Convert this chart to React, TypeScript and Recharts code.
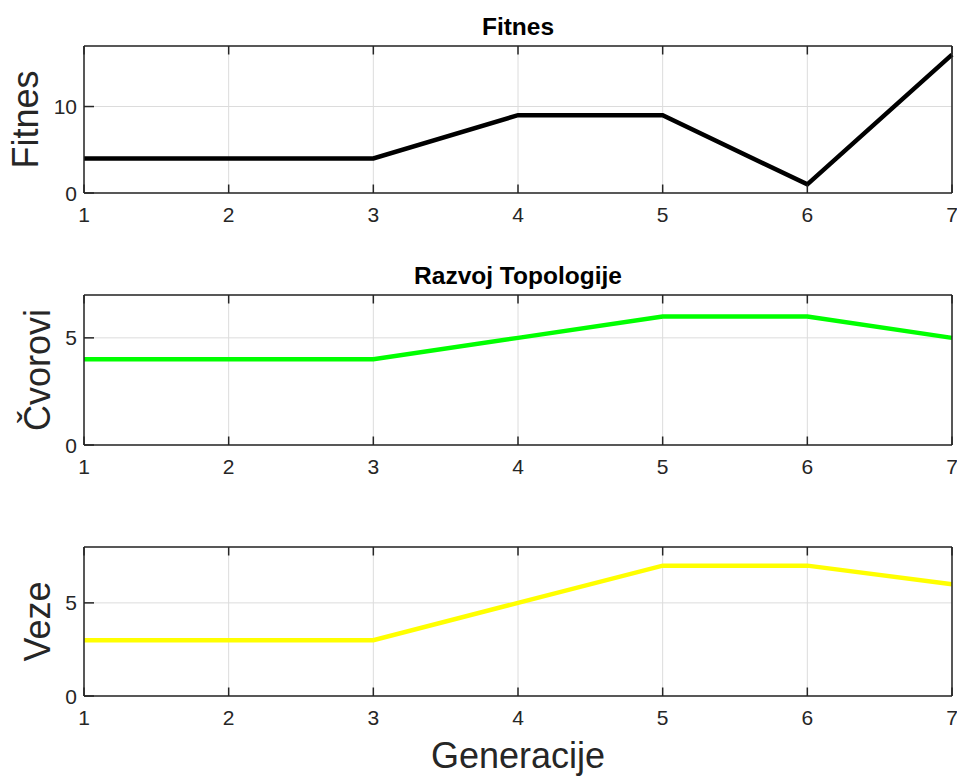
import { CartesianGrid, Label, Line, LineChart, XAxis, YAxis } from "recharts";

// generations on the x axis
const generations = [1, 2, 3, 4, 5, 6, 7];
// fitness per generation
const fitnessValues = [4, 4, 4, 9, 9, 1, 16];
// topology: nodes and connections per generation
const nodeCounts = [4, 4, 4, 5, 6, 6, 5];
const linkCounts = [3, 3, 3, 5, 7, 7, 6];

const xTicks = [1, 2, 3, 4, 5, 6, 7];
const fitnessTicks = [0, 10];
const nodeTicks = [0, 5];
const linkTicks = [0, 5];

const AXIS = "#262626";
const GRID = "#dcdcdc";
const FONT = "'Liberation Sans', Arial, Helvetica, sans-serif";
const W = 957;

const toRows = (values: number[]) => generations.map((g, i) => ({ g, v: values[i] }));

const BottomTick = ({ x, y, payload }: any) => (
  <g>
    <line x1={x} y1={y} x2={x} y2={y - 8.5} stroke={AXIS} strokeWidth={1.5} />
    <text x={x} y={y + 29} textAnchor="middle" fill={AXIS} fontSize={21} fontFamily={FONT}>
      {payload.value}
    </text>
  </g>
);

const TopTick = ({ x, y }: any) => <line x1={x} y1={y} x2={x} y2={y + 8.5} stroke={AXIS} strokeWidth={1.5} />;

const LeftTick = ({ x, y, payload }: any) => (
  <g>
    <line x1={x} y1={y} x2={x + 10} y2={y} stroke={AXIS} strokeWidth={1.5} />
    <text x={x - 7} y={y} dy="0.36em" textAnchor="end" fill={AXIS} fontSize={21} fontFamily={FONT}>
      {payload.value}
    </text>
  </g>
);

const RightTick = ({ x, y }: any) => <line x1={x} y1={y} x2={x - 10} y2={y} stroke={AXIS} strokeWidth={1.5} />;

const YTitle = ({ labelText, baseX, centerY }: any) => (
  <text
    x={baseX}
    y={centerY}
    transform={`rotate(-90 ${baseX} ${centerY})`}
    textAnchor="middle"
    fill={AXIS}
    fontSize={36}
    fontFamily={FONT}
  >
    {labelText}
  </text>
);

interface PanelProps {
  top: number;
  height: number;
  plotTop: number;
  plotHeight: number;
  values: number[];
  domain: [number, number];
  yTicks: number[];
  color: string;
  title?: string;
  yLabel: string;
  yLabelX: number;
  xLabel?: string;
}

const Panel = (p: PanelProps) => {
  const axisLine = { stroke: AXIS, strokeWidth: 1.5 };
  const xHeight = p.height - p.plotTop - p.plotHeight;
  return (
    <div style={{ position: "absolute", left: 0, top: p.top }}>
      <LineChart
        width={W}
        height={p.height}
        data={toRows(p.values)}
        margin={{ top: p.plotTop - 1, right: 4, bottom: 0, left: 0 }}
      >
        <CartesianGrid stroke={GRID} strokeWidth={1} />
        <Line
          type="linear"
          dataKey="v"
          stroke={p.color}
          strokeWidth={4.5}
          dot={false}
          activeDot={false}
          isAnimationActive={false}
        />
        <XAxis
          dataKey="g"
          type="number"
          domain={[1, 7]}
          ticks={xTicks}
          height={xHeight}
          tickSize={0}
          tickMargin={0}
          tickLine={false}
          axisLine={axisLine}
          tick={(t: any) => <BottomTick {...t} />}
        >
          {p.xLabel && (
            <Label value={p.xLabel} position="insideBottom" offset={8} fill={AXIS} fontSize={36} fontFamily={FONT} />
          )}
        </XAxis>
        <XAxis
          xAxisId="top"
          orientation="top"
          dataKey="g"
          type="number"
          domain={[1, 7]}
          ticks={xTicks}
          height={1}
          tickSize={0}
          tickMargin={0}
          tickLine={false}
          axisLine={axisLine}
          tick={(t: any) => <TopTick {...t} />}
        >
          {p.title && (
            <Label
              value={p.title}
              position="top"
              offset={10}
              fill="#000"
              fontSize={24.5}
              fontWeight="bold"
              fontFamily={FONT}
            />
          )}
        </XAxis>
        <YAxis
          type="number"
          domain={p.domain}
          ticks={p.yTicks}
          width={84}
          tickSize={0}
          tickMargin={0}
          tickLine={false}
          axisLine={axisLine}
          tick={(t: any) => <LeftTick {...t} />}
          label={<YTitle labelText={p.yLabel} baseX={p.yLabelX} centerY={p.plotTop + p.plotHeight / 2} />}
        />
        <YAxis
          yAxisId="right"
          orientation="right"
          type="number"
          domain={p.domain}
          ticks={p.yTicks}
          width={1}
          tickSize={0}
          tickMargin={0}
          tickLine={false}
          axisLine={axisLine}
          tick={(t: any) => <RightTick {...t} />}
        />
      </LineChart>
    </div>
  );
};

export default function App() {
  return (
    <div style={{ position: "absolute", left: 0, top: 0, width: W, height: 776, background: "#fff", overflow: "hidden" }}>
      <Panel
        top={0}
        height={250}
        plotTop={46}
        plotHeight={147}
        values={fitnessValues}
        domain={[0, 17]}
        yTicks={fitnessTicks}
        color="#000000"
        title="Fitnes"
        yLabel="Fitnes"
        yLabelX={38}
      />
      <Panel
        top={250}
        height={250}
        plotTop={45}
        plotHeight={150}
        values={nodeCounts}
        domain={[0, 7]}
        yTicks={nodeTicks}
        color="#00ff00"
        title="Razvoj Topologije"
        yLabel="Čvorovi"
        yLabelX={50}
      />
      <Panel
        top={500}
        height={276}
        plotTop={47}
        plotHeight={149}
        values={linkCounts}
        domain={[0, 8]}
        yTicks={linkTicks}
        color="#ffff00"
        yLabel="Veze"
        yLabelX={50}
        xLabel="Generacije"
      />
    </div>
  );
}
